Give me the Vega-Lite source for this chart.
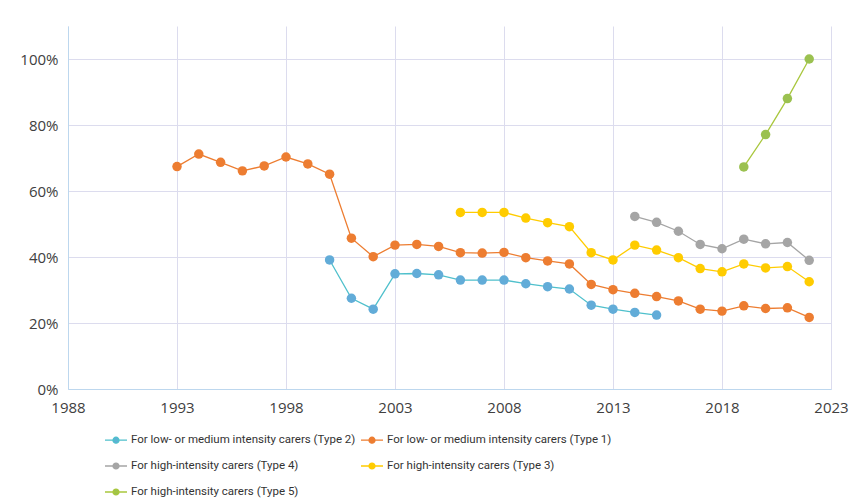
{
  "$schema": "https://vega.github.io/schema/vega-lite/v6.json",
  "autosize": "none",
  "width": 763,
  "height": 363,
  "padding": {"left": 68, "top": 26, "right": 21, "bottom": 113},
  "background": "white",
  "config": {
    "view": {"stroke": null},
    "font": "Open Sans",
    "axis": {"labelFont": "Open Sans", "labelFontSize": 15, "labelColor": "#404040", "gridColor": "#dcdcee", "gridWidth": 1, "domainColor": "#bdd7ee", "domainWidth": 1, "ticks": false, "title": null}
  },
  "data": {"values": [
    {"s": "For low- or medium intensity carers (Type 1)", "year": 1993, "v": 67.4},
    {"s": "For low- or medium intensity carers (Type 1)", "year": 1994, "v": 71.2},
    {"s": "For low- or medium intensity carers (Type 1)", "year": 1995, "v": 68.7},
    {"s": "For low- or medium intensity carers (Type 1)", "year": 1996, "v": 66.1},
    {"s": "For low- or medium intensity carers (Type 1)", "year": 1997, "v": 67.6},
    {"s": "For low- or medium intensity carers (Type 1)", "year": 1998, "v": 70.3},
    {"s": "For low- or medium intensity carers (Type 1)", "year": 1999, "v": 68.2},
    {"s": "For low- or medium intensity carers (Type 1)", "year": 2000, "v": 65.1},
    {"s": "For low- or medium intensity carers (Type 1)", "year": 2001, "v": 45.7},
    {"s": "For low- or medium intensity carers (Type 1)", "year": 2002, "v": 40.1},
    {"s": "For low- or medium intensity carers (Type 1)", "year": 2003, "v": 43.6},
    {"s": "For low- or medium intensity carers (Type 1)", "year": 2004, "v": 43.8},
    {"s": "For low- or medium intensity carers (Type 1)", "year": 2005, "v": 43.2},
    {"s": "For low- or medium intensity carers (Type 1)", "year": 2006, "v": 41.3},
    {"s": "For low- or medium intensity carers (Type 1)", "year": 2007, "v": 41.2},
    {"s": "For low- or medium intensity carers (Type 1)", "year": 2008, "v": 41.4},
    {"s": "For low- or medium intensity carers (Type 1)", "year": 2009, "v": 39.8},
    {"s": "For low- or medium intensity carers (Type 1)", "year": 2010, "v": 38.8},
    {"s": "For low- or medium intensity carers (Type 1)", "year": 2011, "v": 37.9},
    {"s": "For low- or medium intensity carers (Type 1)", "year": 2012, "v": 31.7},
    {"s": "For low- or medium intensity carers (Type 1)", "year": 2013, "v": 30.1},
    {"s": "For low- or medium intensity carers (Type 1)", "year": 2014, "v": 29.0},
    {"s": "For low- or medium intensity carers (Type 1)", "year": 2015, "v": 28.0},
    {"s": "For low- or medium intensity carers (Type 1)", "year": 2016, "v": 26.7},
    {"s": "For low- or medium intensity carers (Type 1)", "year": 2017, "v": 24.2},
    {"s": "For low- or medium intensity carers (Type 1)", "year": 2018, "v": 23.6},
    {"s": "For low- or medium intensity carers (Type 1)", "year": 2019, "v": 25.2},
    {"s": "For low- or medium intensity carers (Type 1)", "year": 2020, "v": 24.4},
    {"s": "For low- or medium intensity carers (Type 1)", "year": 2021, "v": 24.6},
    {"s": "For low- or medium intensity carers (Type 1)", "year": 2022, "v": 21.7},
    {"s": "For low- or medium intensity carers (Type 2)", "year": 2000, "v": 39.1},
    {"s": "For low- or medium intensity carers (Type 2)", "year": 2001, "v": 27.5},
    {"s": "For low- or medium intensity carers (Type 2)", "year": 2002, "v": 24.2},
    {"s": "For low- or medium intensity carers (Type 2)", "year": 2003, "v": 34.9},
    {"s": "For low- or medium intensity carers (Type 2)", "year": 2004, "v": 35.0},
    {"s": "For low- or medium intensity carers (Type 2)", "year": 2005, "v": 34.6},
    {"s": "For low- or medium intensity carers (Type 2)", "year": 2006, "v": 33.0},
    {"s": "For low- or medium intensity carers (Type 2)", "year": 2007, "v": 33.0},
    {"s": "For low- or medium intensity carers (Type 2)", "year": 2008, "v": 33.0},
    {"s": "For low- or medium intensity carers (Type 2)", "year": 2009, "v": 31.9},
    {"s": "For low- or medium intensity carers (Type 2)", "year": 2010, "v": 31.0},
    {"s": "For low- or medium intensity carers (Type 2)", "year": 2011, "v": 30.3},
    {"s": "For low- or medium intensity carers (Type 2)", "year": 2012, "v": 25.4},
    {"s": "For low- or medium intensity carers (Type 2)", "year": 2013, "v": 24.2},
    {"s": "For low- or medium intensity carers (Type 2)", "year": 2014, "v": 23.2},
    {"s": "For low- or medium intensity carers (Type 2)", "year": 2015, "v": 22.4},
    {"s": "For high-intensity carers (Type 3)", "year": 2006, "v": 53.5},
    {"s": "For high-intensity carers (Type 3)", "year": 2007, "v": 53.5},
    {"s": "For high-intensity carers (Type 3)", "year": 2008, "v": 53.5},
    {"s": "For high-intensity carers (Type 3)", "year": 2009, "v": 51.8},
    {"s": "For high-intensity carers (Type 3)", "year": 2010, "v": 50.4},
    {"s": "For high-intensity carers (Type 3)", "year": 2011, "v": 49.2},
    {"s": "For high-intensity carers (Type 3)", "year": 2012, "v": 41.3},
    {"s": "For high-intensity carers (Type 3)", "year": 2013, "v": 39.1},
    {"s": "For high-intensity carers (Type 3)", "year": 2014, "v": 43.6},
    {"s": "For high-intensity carers (Type 3)", "year": 2015, "v": 42.1},
    {"s": "For high-intensity carers (Type 3)", "year": 2016, "v": 39.8},
    {"s": "For high-intensity carers (Type 3)", "year": 2017, "v": 36.5},
    {"s": "For high-intensity carers (Type 3)", "year": 2018, "v": 35.5},
    {"s": "For high-intensity carers (Type 3)", "year": 2019, "v": 37.9},
    {"s": "For high-intensity carers (Type 3)", "year": 2020, "v": 36.7},
    {"s": "For high-intensity carers (Type 3)", "year": 2021, "v": 37.1},
    {"s": "For high-intensity carers (Type 3)", "year": 2022, "v": 32.5},
    {"s": "For high-intensity carers (Type 4)", "year": 2014, "v": 52.3},
    {"s": "For high-intensity carers (Type 4)", "year": 2015, "v": 50.5},
    {"s": "For high-intensity carers (Type 4)", "year": 2016, "v": 47.8},
    {"s": "For high-intensity carers (Type 4)", "year": 2017, "v": 43.8},
    {"s": "For high-intensity carers (Type 4)", "year": 2018, "v": 42.5},
    {"s": "For high-intensity carers (Type 4)", "year": 2019, "v": 45.4},
    {"s": "For high-intensity carers (Type 4)", "year": 2020, "v": 44.0},
    {"s": "For high-intensity carers (Type 4)", "year": 2021, "v": 44.4},
    {"s": "For high-intensity carers (Type 4)", "year": 2022, "v": 39.0},
    {"s": "For high-intensity carers (Type 5)", "year": 2019, "v": 67.3},
    {"s": "For high-intensity carers (Type 5)", "year": 2020, "v": 77.1},
    {"s": "For high-intensity carers (Type 5)", "year": 2021, "v": 88.0},
    {"s": "For high-intensity carers (Type 5)", "year": 2022, "v": 100.0}
  ]},
  "encoding": {
    "x": {"field": "year", "type": "quantitative", "scale": {"domain": [1988, 2023], "nice": false, "zero": false},
          "axis": {"values": [1988, 1993, 1998, 2003, 2008, 2013, 2018, 2023], "format": "d", "labelPadding": 11, "grid": true, "labelFlush": false}},
    "y": {"field": "v", "type": "quantitative", "scale": {"domain": [0, 110], "nice": false},
          "axis": {"values": [0, 20, 40, 60, 80, 100], "labelExpr": "datum.value + '%'", "labelPadding": 10, "grid": true}}
  },
  "layer": [
    {
      "mark": {"type": "line", "strokeWidth": 1.3},
      "encoding": {
        "stroke": {"field": "s", "type": "nominal",
          "scale": {"domain": ["For low- or medium intensity carers (Type 2)", "For low- or medium intensity carers (Type 1)", "For high-intensity carers (Type 4)", "For high-intensity carers (Type 3)", "For high-intensity carers (Type 5)"],
                    "range": ["#4fc0cc", "#ed7d31", "#a5a5a5", "#ffcc00", "#a9c73e"]},
          "legend": {"title": null, "orient": "none", "legendX": 36, "legendY": 402, "direction": "horizontal", "columns": 2, "columnPadding": 2, "rowPadding": 8,
                     "labelFont": "Roboto", "labelFontSize": 11.5, "labelColor": "#333333", "labelLimit": 0, "labelOffset": 3,
                     "symbolType": "M-1,0H1M0.27,0A0.27,0.27,0,1,1,-0.27,0A0.27,0.27,0,1,1,0.27,0Z", "symbolSize": 484, "symbolStrokeWidth": 1.3}}
      }
    },
    {
      "mark": {"type": "point", "filled": true, "size": 90, "opacity": 1},
      "encoding": {
        "fill": {"field": "s", "type": "nominal",
          "scale": {"domain": ["For low- or medium intensity carers (Type 2)", "For low- or medium intensity carers (Type 1)", "For high-intensity carers (Type 4)", "For high-intensity carers (Type 3)", "For high-intensity carers (Type 5)"],
                    "range": ["#62acd8", "#ed7d31", "#a5a5a5", "#ffcc00", "#9bc150"]},
          "legend": {"title": null, "orient": "none", "legendX": 36, "legendY": 402, "direction": "horizontal", "columns": 2, "columnPadding": 2, "rowPadding": 8,
                     "labelFont": "Roboto", "labelFontSize": 11.5, "labelColor": "#333333", "labelLimit": 0, "labelOffset": 3,
                     "symbolType": "M-1,0H1M0.27,0A0.27,0.27,0,1,1,-0.27,0A0.27,0.27,0,1,1,0.27,0Z", "symbolSize": 484, "symbolStrokeWidth": 1.3}
        }
      }
    }
  ]
}
